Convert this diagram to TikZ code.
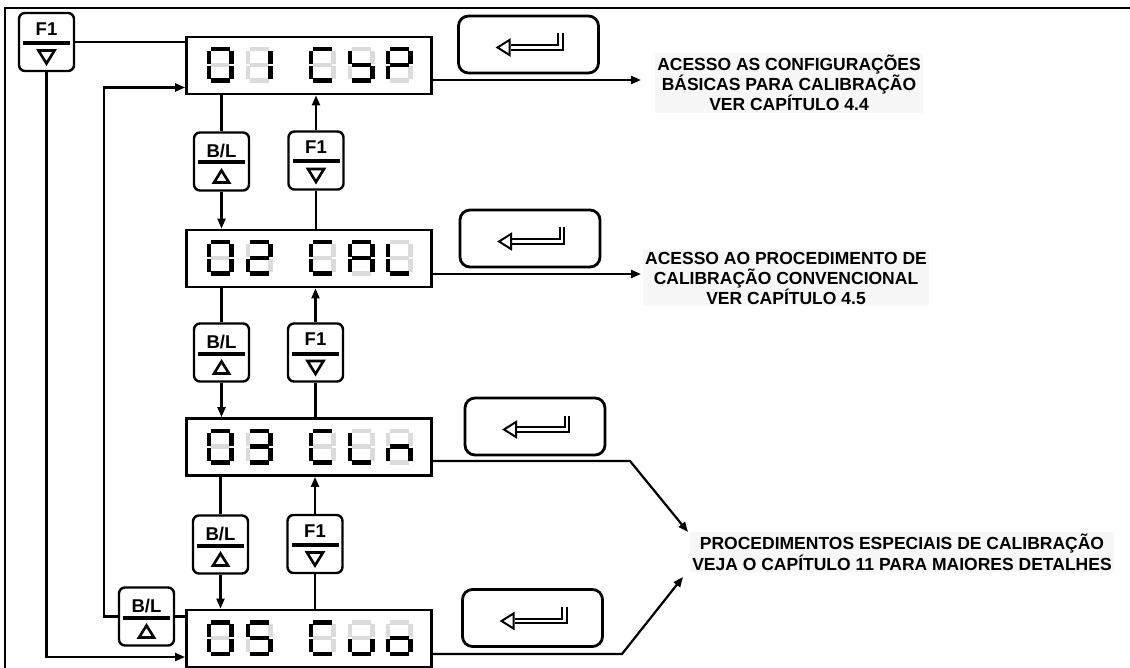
\documentclass[tikz,border=0pt]{standalone}
\usepackage{fontspec}
\setmainfont{Liberation Sans}
\usetikzlibrary{calc,arrows.meta}

\tikzset{
  disp/.style={draw, line width=2.8pt, minimum width=245pt, minimum height=57pt, inner sep=0pt},
  keybox/.style={draw, line width=2.4pt, rounded corners=6pt, minimum width=55pt, minimum height=58pt, inner sep=0pt, fill=white},
  entbox/.style={draw, line width=2.8pt, rounded corners=10pt, minimum width=140pt, minimum height=57pt, inner sep=0pt},
  conn/.style={line width=2.2pt},
  arr/.style={conn, -{Triangle[length=10pt,width=8pt]}},
  keylbl/.style={font=\fontsize{18.5}{18.5}\selectfont\bfseries, inner sep=0pt},
  note/.style={font=\fontsize{17.5}{20}\selectfont\bfseries, align=center, fill=black!3, inner sep=2pt},
  segon/.style={fill=black},
  segoff/.style={fill=black!14},
}

\newcommand\segXa[3]{\fill[#3] (#1+4,#2) rectangle (#1+23,#2+4.5);}
\newcommand\segXb[3]{\fill[#3] (#1+22.5,#2+4) rectangle (#1+27,#2+17);}
\newcommand\segXc[3]{\fill[#3] (#1+22.5,#2+19) rectangle (#1+27,#2+32);}
\newcommand\segXd[3]{\fill[#3] (#1+4,#2+31.5) rectangle (#1+23,#2+36);}
\newcommand\segXe[3]{\fill[#3] (#1,#2+19) rectangle (#1+4.5,#2+32);}
\newcommand\segXf[3]{\fill[#3] (#1,#2+4) rectangle (#1+4.5,#2+17);}
\newcommand\segXg[3]{\fill[#3] (#1+4,#2+15.75) rectangle (#1+23,#2+20.25);}

\newcommand\sevseg[3]{%
  \foreach \s in {a,b,c,d,e,f,g}{\csname segX\s\endcsname{#1}{#2}{segoff}}
  \foreach \s in {#3}{\csname segX\s\endcsname{#1}{#2}{segon}}
}
\newcommand\dispchars[7]{%
  \sevseg{#1+20}{#2+10}{#3}
  \sevseg{#1+59}{#2+10}{#4}
  \sevseg{#1+122}{#2+10}{#5}
  \sevseg{#1+161}{#2+10}{#6}
  \sevseg{#1+199}{#2+10}{#7}
}

\newcommand\keyF[3]{%
  \node[keybox] (#1) at (#2,#3) {};
  \node[keylbl] (#1-t) at ($(#1.center)+(0,-13)$) {F1};
  \draw[line width=4pt] ($(#1.center)+(-23.5,1)$) -- ++(47,0);
  \draw[line width=2.6pt, line join=miter] ($(#1.center)+(-8,8.5)$) -- ++(16,0) -- ++(-8,13) -- cycle;
}
\newcommand\keyB[3]{%
  \node[keybox] (#1) at (#2,#3) {};
  \node[keylbl] (#1-t) at ($(#1.center)+(0,-11)$) {B/L};
  \draw[line width=4pt] ($(#1.center)+(-23.5,1)$) -- ++(47,0);
  \draw[line width=2.6pt, line join=miter] ($(#1.center)+(-7.5,21)$) -- ++(15,0) -- ++(-7.5,-12) -- cycle;
}
\newcommand\entkey[3]{%
  \node[entbox] (#1) at (#2,#3) {};
  \draw[double, double distance=2.5pt, line width=2pt] ($(#1.center)+(32,-11)$) -- ++(0,14) -- ++(-50,0);
  \draw[line width=2pt, fill=white, line join=miter] ($(#1.center)+(-31,3)$) -- ++(12,-7.5) -- ++(0,15) -- cycle;
}

\begin{document}
\begin{tikzpicture}[x=1pt,y=-1pt]
\useasboundingbox (0,0) rectangle (1130,668);
\fill[white] (0,0) rectangle (1130,668);

% frame
\draw[line width=2pt] (5,668) -- (5,8) -- (1130,8);

% displays
\node[disp] (d1) at (309,65.5) {};
\node[disp] (d2) at (309,258.5) {};
\node[disp] (d3) at (309,447) {};
\node[disp] (d4) at (309,638.5) {};

\dispchars{186.5}{37}{a,b,c,d,e,f}{b,c}{a,d,e,f}{f,g,c,d}{a,b,f,g,e}
\dispchars{186.5}{230}{a,b,c,d,e,f}{a,b,g,e,d}{a,d,e,f}{a,b,c,e,f,g}{f,e,d}
\dispchars{186.5}{418.5}{a,b,c,d,e,f}{a,b,g,c,d}{a,d,e,f}{f,e,d}{e,g,c}
\dispchars{186.5}{610}{a,b,c,d,e,f}{a,f,g,c,d}{a,d,e,f}{e,d,c}{g,e,d,c}

% keys
\keyF{kF0}{46.5}{42}
\keyB{kB1}{221.5}{161.5}
\keyF{kF1}{316}{160.5}
\keyB{kB2}{221.5}{352.5}
\keyF{kF2}{315.5}{352.5}
\keyB{kB3}{220.5}{544.5}
\keyF{kF3}{315}{544}
\keyB{kB4}{146.5}{616.5}

% enter keys
\entkey{e1}{528.5}{44.5}
\entkey{e2}{530}{238.5}
\entkey{e3}{535}{426.5}
\entkey{e4}{532.5}{618}

% notes
\node[note] (t1) at (789,83) {ACESSO AS CONFIGURAÇÕES\\BÁSICAS PARA CALIBRAÇÃO\\VER CAPÍTULO 4.4};
\node[note] (t2) at (786,278) {ACESSO AO PROCEDIMENTO DE\\CALIBRAÇÃO CONVENCIONAL\\VER CAPÍTULO 4.5};
\node[note, font=\fontsize{17.5}{21}\selectfont\bfseries] (t3) at (902,552) {PROCEDIMENTOS ESPECIAIS DE CALIBRAÇÃO\\VEJA O CAPÍTULO 11 PARA MAIORES DETALHES};

% connectors: top-left F1
\draw[conn] (kF0) -- (kF0 -| d1.west);
\draw[arr] (kF0.south) |- ($(d4.west)+(0,18.5)$);
% loop B/L
\draw[conn] (kB4) -- (kB4 -| d4.west);
\draw[arr] (kB4.west) -| ($(d1.west)+(-81,22)$) -- ($(d1.west)+(0,22)$);

% vertical chain
\draw[conn] (kB1.north |- d1.south) -- (kB1.north);
\draw[arr] (kB1.south) -- (kB1.south |- d2.north);
\draw[arr] (kF1.north) -- (kF1.north |- d1.south);
\draw[conn] (kF1.south) -- (kF1.south |- d2.north);

\draw[conn] (kB2.north |- d2.south) -- (kB2.north);
\draw[arr] (kB2.south) -- (kB2.south |- d3.north);
\draw[arr] (kF2.north) -- (kF2.north |- d2.south);
\draw[conn] (kF2.south) -- (kF2.south |- d3.north);

\draw[conn] (kB3.north |- d3.south) -- (kB3.north);
\draw[arr] (kB3.south) -- (kB3.south |- d4.north);
\draw[arr] (kF3.north) -- (kF3.north |- d3.south);
\draw[conn] (kF3.south) -- (kF3.south |- d4.north);

% outputs
\coordinate (a1) at (641,80);
\coordinate (a2) at (641,274);
\coordinate (b3) at (630,461);
\coordinate (a3) at (688,532);
\coordinate (b4) at (622,654);
\coordinate (a4) at (683,577);
\draw[arr] (d1.east |- a1) -- (a1);
\draw[arr] (d2.east |- a2) -- (a2);
\draw[arr] (d3.east |- b3) -- (b3) -- (a3);
\draw[arr] (d4.east |- b4) -- (b4) -- (a4);
\end{tikzpicture}
\end{document}
